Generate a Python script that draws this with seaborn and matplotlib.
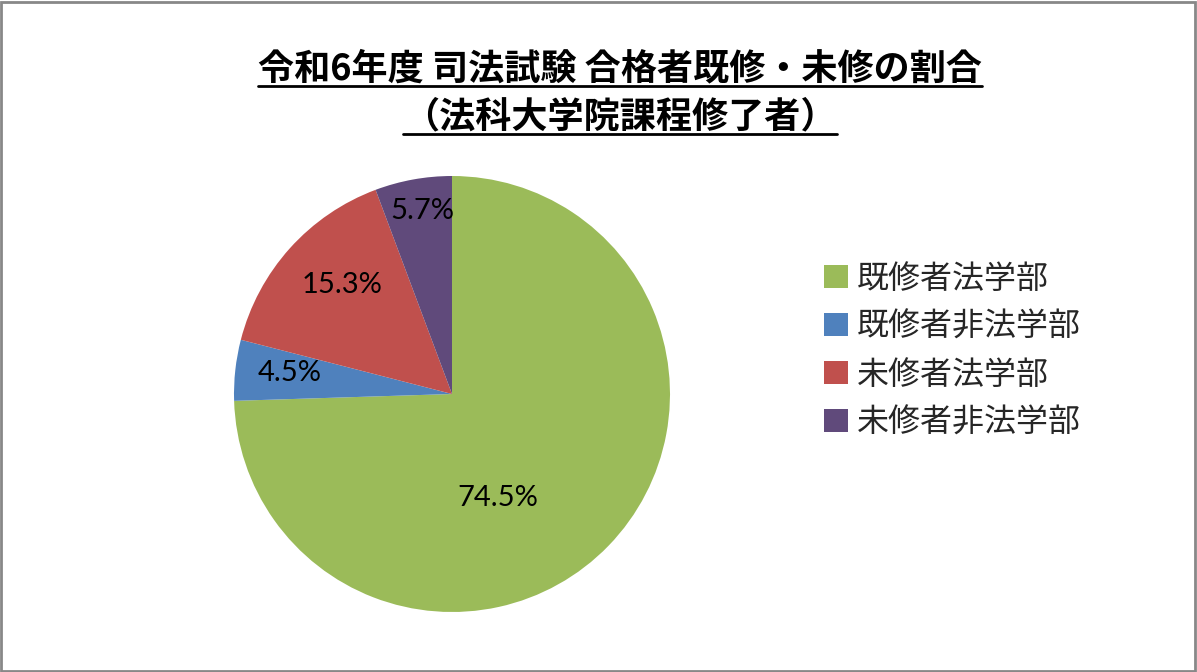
import numpy as np
import seaborn as sns
import matplotlib.pyplot as plt
from matplotlib.lines import Line2D
from matplotlib.patches import Rectangle

categories = ['既修者法学部', '既修者非法学部', '未修者法学部', '未修者非法学部']
shares = [74.5, 4.5, 15.3, 5.7]
title_lines = ['令和6年度 司法試験 合格者既修・未修の割合', '（法科大学院課程修了者）']

colors = sns.color_palette(['#9BBB59', '#4F81BD', '#C0504D', '#604A7B'])
# Excel puts the labels at varying distances, so nudge them per slice
label_r = [0.52, 0.75, 0.71, 0.85]
label_shift = [-22, -1, -3, -1]

sns.set_theme(style='white')
plt.rcParams['font.family'] = ['Noto Sans CJK JP', 'DejaVu Sans']

fig = plt.figure(figsize=(11.97, 6.72), dpi=100)
fig.patch.set_facecolor('white')
fig.patches.append(Rectangle((0.001, 0.002), 0.997, 0.995, transform=fig.transFigure,
                             fill=False, edgecolor='#888888', linewidth=2))

ax = fig.add_axes([234 / 1197, 60 / 672, 436 / 1197, 436 / 672])
wedges, texts, autotexts = ax.pie(shares, colors=colors, startangle=90, counterclock=False,
                                  autopct='%1.1f%%', wedgeprops=dict(linewidth=0))
ax.set_xlim(-1, 1)
ax.set_ylim(-1, 1)
ax.set_aspect('equal')
ax.axis('off')

for w, t, r, s in zip(wedges, autotexts, label_r, label_shift):
    ang = np.deg2rad((w.theta1 + w.theta2) / 2 + s)
    t.set_position((r * np.cos(ang), r * np.sin(ang)))
    t.set_family(['Lato', 'DejaVu Sans'])
    t.set_fontsize(21)
    t.set_color('black')

# title with underline
fig.canvas.draw()
renderer = fig.canvas.get_renderer()
for y, line in zip([0.897, 0.826], title_lines):
    txt = fig.text(0.518, y, line, ha='center', va='center', fontsize=26,
                   fontweight='bold', color='black')
    bb = txt.get_window_extent(renderer).transformed(fig.transFigure.inverted())
    fig.add_artist(Line2D([bb.x0, bb.x1], [bb.y0 + 0.002, bb.y0 + 0.002],
                          transform=fig.transFigure, color='black', linewidth=2))

fig.legend(wedges, categories, loc='center left', bbox_to_anchor=(0.664, 0.478),
           frameon=False, fontsize=23, handlelength=0.75, handleheight=0.75,
           handletextpad=0.3, labelspacing=0.5)

plt.savefig('out.png', dpi=100)
